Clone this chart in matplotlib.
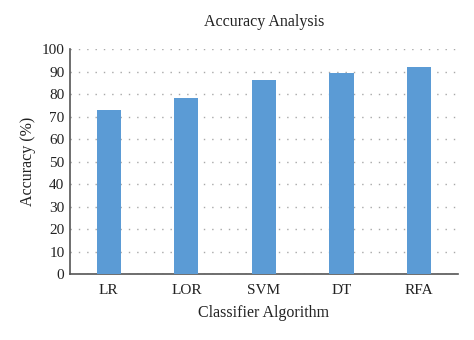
import matplotlib
matplotlib.use('Agg')
import matplotlib.pyplot as plt

classifiers = ['LR', 'LOR', 'SVM', 'DT', 'RFA']
accuracy = [73.0, 78.2, 86.4, 89.3, 92.0]
yticks = [0, 10, 20, 30, 40, 50, 60, 70, 80, 90, 100]

plt.rcParams['font.family'] = ['Liberation Serif', 'DejaVu Serif']

fig = plt.figure(figsize=(4.74, 3.4), dpi=100)
ax = fig.add_axes([0.1477, 0.193, 0.8183, 0.662])

x = list(range(len(classifiers)))
ax.bar(x, accuracy, width=0.31, color='#5b9bd5', zorder=3)

ax.set_xlim(-0.5, len(classifiers) - 0.5)
ax.set_ylim(0, 100)
ax.set_yticks(yticks)
ax.set_xticks(x)
ax.set_xticklabels(classifiers)
ax.tick_params(axis='both', length=0, labelsize=11, colors='#222222', pad=4)
ax.tick_params(axis='x', pad=7)

ax.yaxis.grid(True, linestyle=(0, (1, 5)), color='#a8a8a8', linewidth=1.0, zorder=0)
for s in ['top', 'right']:
    ax.spines[s].set_visible(False)
for s in ['left', 'bottom']:
    ax.spines[s].set_color('#555555')
    ax.spines[s].set_linewidth(1.2)

ax.set_title('Accuracy Analysis', fontsize=11.5, color='#222222', pad=17)
ax.set_xlabel('Classifier Algorithm', fontsize=11.5, color='#222222', labelpad=6)
ax.set_ylabel('Accuracy (%)', fontsize=11.5, color='#222222', labelpad=4)

plt.savefig('out.png', dpi=100)
